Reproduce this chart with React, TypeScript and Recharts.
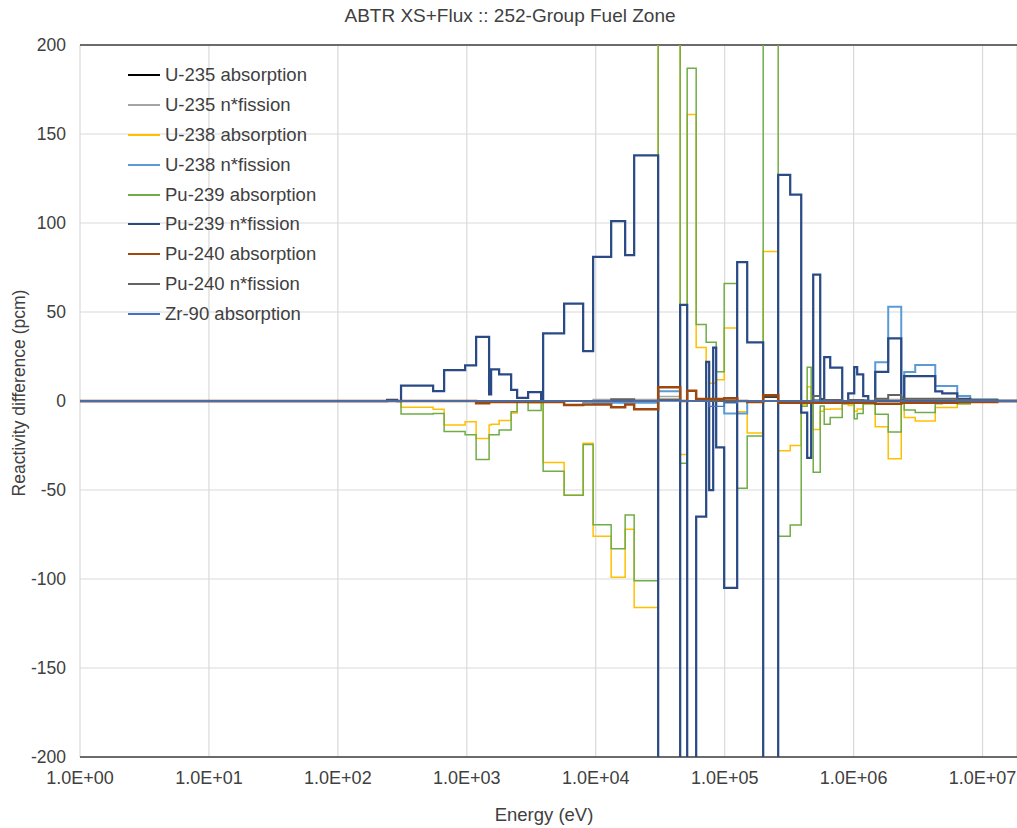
import React from "react";
import {
  LineChart,
  Line,
  XAxis,
  YAxis,
  CartesianGrid,
  ReferenceLine,
} from "recharts";

// Group boundaries in eV; the last entry closes the final group.
const energyEdges = [
  1, 241, 288, 309, 548, 667, 970, 1181, 1489, 1543,
  1781, 2207, 2456, 2989, 3771, 3908, 5686, 7987, 9545, 13170,
  16910, 19860, 30490, 45160, 51190, 60110, 71870, 75830, 81450, 85930,
  99110, 125000, 149500, 198900, 260000, 322200, 392300, 436500, 468800, 486000,
  550700, 591500, 658400, 815900, 908100, 1011000, 1066000, 1187000, 1298000, 1471000,
  1855000, 2341000, 2469000, 3005000, 4297000, 4869000, 6364000, 8025000, 13000000, 18500000,
];

// Reactivity difference per group (pcm)
const u235Absorption = [
  0, 0, 0, 0, 0, 0, 0, 0, 0, 0,
  0, 0, 0, 0, 0, 0, 0, 0, 0, 0,
  0, 0, 0.5, 0, 0, 0, 0, 0, 0, 0,
  -0.5, 0, 0, 2.2, 0, 0, 0, 0, 0, 0,
  0, 0, 0, 0, 0, 0, 0, 0, 0, 0,
  0, 0, 0, 0, 0, 0, 0, 0, 0,
];
const u235Fission = [
  0, 0, 0, 0, 0, 0, 0, 0, 0, 0,
  0, 0, 0, 0, 0, 0, 0, 0, 0.8, 0.8,
  0.8, 0.8, 2.5, 0, 0, 0, 0, 0, 0, 0,
  1, 0, 0, 0, 0, 0, 0, 0, 0, 0,
  0, 0, 0, 0, 0, 0, 0, 0, 0, 0.8,
  0.8, 0, 0.8, 0.8, 0.8, 0.8, 0, 0, 0,
];
const u238Absorption = [
  0, 0, 0, -3.5, -4.6, -13.5, -11.6, -21, -13.5, -13,
  -10.9, -6.8, 0, -1, 0, -34.5, -53, -23.7, -76, -99,
  -72, -116, 260, -30, 161, 30, 21.6, 10, 10, 12,
  41, -6, -18, 84, -28, -25, -2, 8, 0, -16,
  -5.7, -4.7, -4.5, -1.5, -2.5, -5.7, -4.5, -1.5, -1.5, -14.4,
  -32.4, -0.5, -9.3, -11.2, -3.7, -3.7, -1.5, -0.5, 0,
];
const u238Fission = [
  0, 0, 0, 0, 0, 0, 0, 0, 0, 0,
  0, 0, 0, 0, 0, 0, 0, -0.5, -1, -1,
  -1, -1, 5.5, 0, 0, 0, 0, 0, 0, 0,
  -7, -7, 0, 0, 0, 0, 0, 0, 0, 0.5,
  0, 0.5, 0.5, 0, 0.3, 0.5, 0.5, 0.3, 0.2, 21.7,
  53, 2, 16.3, 20.2, 8.4, 8.4, 2.8, 1, 0.3,
];
const pu239Absorption = [
  0, 0, 0, -7.3, -7, -17.2, -19, -32.8, -19, -19,
  -16.3, -6, 0, -5.4, 0, -39.5, -53, -24.5, -69.5, -83,
  -64, -101, 280, -35, 187, 43, 33, 33, 33, 16.5,
  66, -49, -19.7, 280, -76, -69.7, -3, 19, 0, -40,
  -2.8, -13, -9.3, -1.5, -1.5, -10, -7, -1.5, -1.5, -7.5,
  -17.4, -1, -5, -6.5, -1.5, -1, -1.5, -0.5, 0,
];
const pu239Fission = [
  0, 0.7, 0, 8.6, 5.6, 17.4, 20, 36, 3.7, 17.8,
  15, 6.2, 1.7, 5, 0, 38, 54.7, 28, 81, 101,
  82, 138, -280, 54, -280, -65, 22, -50, 30, -26,
  -105, 78, 33, -280, 127, 116, -6.5, -32, 0, 71,
  1, 24.7, 18.7, 0, 4.3, 19, 15, 2.8, -1, 16.3,
  35.2, 0.5, 14, 14, 5.4, 4.3, 1.2, 0.5, 0,
];
const pu240Absorption = [
  0, 0, 0, 0, 0, 0, 0, -1.3, -0.5, -0.5,
  -0.5, -0.5, -0.5, -0.5, -0.5, -0.5, -2.3, -2, -2, -3.5,
  -2, -4.7, 7.7, 0, 5.8, 1.1, 1.1, 1.1, 1.1, 1.1,
  1.5, 0, -0.5, 3.2, -1, -1, -1, -1, -1, -1,
  -1, -1, -1, -1, -1, -1, -1, -1, -1, -1.5,
  -1.5, -1, -1, -1, -1, -1, -0.5, -0.5, 0,
];
const pu240Fission = [
  0, 0, 0, 0, 0, 0, 0, 0, 0, 0,
  0, 0, 0, 0, 0, 0, 0, 0, 0, 1,
  1, 0, 0.8, 0, 0, 0, 0, 0, 0, 0,
  0, 0, 0, 0, 0, 0, 0, 0, 0, 2.8,
  0, 0.5, 0.5, 0, 0.5, 0.5, 0.5, 0.3, 0, 1.3,
  3.4, 0, 1.3, 1.3, 1.3, 1.3, 0.5, 0.5, 0,
];
const zr90Absorption = [
  0, 0, 0, 0, 0, 0, 0, 0, 0, 0,
  0, 0, 0, 0, 0, 0, 0, 0, 0, 0,
  0, 0, 0, 0, 0, 0, 0, -3, -3, -3,
  -1, 0, 0, 0, 0, 0, 0, 0, 0, 0,
  0, 0, 0, 0, 0, 0, 0, 0, 0, 0,
  0, 0, 0, 0, 0, 0, 0, 0, 0,
];

const xTicks = [1, 1e1, 1e2, 1e3, 1e4, 1e5, 1e6, 1e7];
const yTicks = [-200, -150, -100, -50, 0, 50, 100, 150, 200];

const series = [
  { key: "u235Abs", name: "U-235 absorption", values: u235Absorption, color: "#000000", width: 1.5 },
  { key: "u235Fis", name: "U-235 n*fission", values: u235Fission, color: "#A5A5A5", width: 1.5 },
  { key: "u238Abs", name: "U-238 absorption", values: u238Absorption, color: "#FFC000", width: 1.5 },
  { key: "u238Fis", name: "U-238 n*fission", values: u238Fission, color: "#5B9BD5", width: 2 },
  { key: "pu239Abs", name: "Pu-239 absorption", values: pu239Absorption, color: "#70AD47", width: 1.5 },
  { key: "pu239Fis", name: "Pu-239 n*fission", values: pu239Fission, color: "#2A4A85", width: 2.25 },
  { key: "pu240Abs", name: "Pu-240 absorption", values: pu240Absorption, color: "#9E480E", width: 2.5 },
  { key: "pu240Fis", name: "Pu-240 n*fission", values: pu240Fission, color: "#636363", width: 2 },
  { key: "zr90Abs", name: "Zr-90 absorption", values: zr90Absorption, color: "#4472C4", width: 1.25 },
];

// one row per group edge; the closing edge repeats the last group's value
const rows = energyEdges.map((energy, i) => {
  const g = Math.min(i, energyEdges.length - 2);
  const row: Record<string, number> = { energy };
  series.forEach((s) => {
    row[s.key] = s.values[g];
  });
  return row;
});

const FONT = "'Liberation Sans', Arial, sans-serif";
const TEXT = "#404040";

const fmtEnergy = (v: number) => {
  const exp = Math.round(Math.log10(v));
  return `1.0E+${String(exp).padStart(2, "0")}`;
};

export default function App() {
  return (
    <div
      style={{
        position: "absolute",
        left: 0,
        top: 0,
        width: 1017,
        height: 828,
        background: "#fff",
        fontFamily: FONT,
        overflow: "hidden",
      }}
    >
      <div
        style={{
          position: "absolute",
          left: 0,
          width: 1020,
          top: 5,
          textAlign: "center",
          fontSize: 19,
          color: TEXT,
        }}
      >
        ABTR XS+Flux :: 252-Group Fuel Zone
      </div>

      <LineChart
        width={1017}
        height={828}
        data={rows}
        margin={{ top: 45, right: 0, bottom: 0, left: 0 }}
      >
        <CartesianGrid stroke="#D9D9D9" strokeWidth={1.2} />
        <XAxis
          dataKey="energy"
          type="number"
          scale="log"
          domain={[1, 18500000]}
          allowDataOverflow
          ticks={xTicks}
          tickFormatter={fmtEnergy}
          tick={{ fontSize: 18, fill: TEXT, fontFamily: FONT }}
          tickLine={false}
          tickMargin={8}
          axisLine={{ stroke: "#404040", strokeWidth: 1.5 }}
          height={71}
          interval={0}
        />
        <YAxis
          type="number"
          domain={[-200, 200]}
          allowDataOverflow
          ticks={yTicks}
          tick={{ fontSize: 17.5, fill: TEXT, fontFamily: FONT }}
          tickLine={false}
          tickMargin={8}
          axisLine={false}
          width={80}
          interval={0}
        />
        <ReferenceLine y={200} stroke="#404040" strokeWidth={1.5} />
        {series.map((s) => (
          <Line
            key={s.key}
            dataKey={s.key}
            name={s.name}
            type="stepAfter"
            stroke={s.color}
            strokeWidth={s.width}
            dot={false}
            activeDot={false}
            isAnimationActive={false}
          />
        ))}
      </LineChart>

      {/* legend */}
      <div style={{ position: "absolute", left: 128, top: 60 }}>
        {series.map((s) => (
          <div
            key={s.key}
            style={{ display: "flex", alignItems: "center", height: 29.9 }}
          >
            <span
              style={{
                display: "inline-block",
                width: 32,
                height: 0,
                borderTop: `${Math.max(2, s.width)}px solid ${s.color}`,
                marginRight: 5,
              }}
            />
            <span style={{ fontSize: 18.5, color: TEXT, whiteSpace: "nowrap" }}>
              {s.name}
            </span>
          </div>
        ))}
      </div>

      <div
        style={{
          position: "absolute",
          left: 0,
          width: 1088,
          top: 804,
          textAlign: "center",
          fontSize: 18.5,
          color: TEXT,
        }}
      >
        Energy (eV)
      </div>
      <div
        style={{
          position: "absolute",
          left: 19,
          top: 393,
          transform: "translate(-50%, -50%) rotate(-90deg)",
          whiteSpace: "nowrap",
          fontSize: 17.5,
          color: TEXT,
        }}
      >
        Reactivity difference (pcm)
      </div>
    </div>
  );
}
